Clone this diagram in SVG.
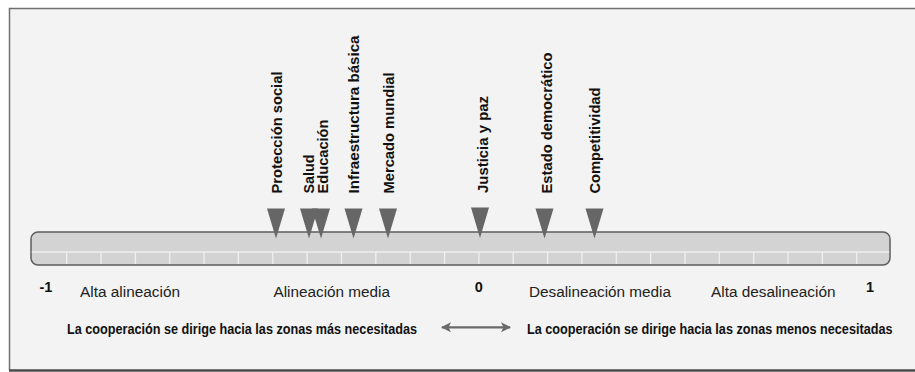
<svg xmlns="http://www.w3.org/2000/svg" width="915" height="372" viewBox="0 0 915 372">
<defs>
<style>
.lbl{font-family:"Liberation Sans",Arial,sans-serif;font-weight:bold;font-size:15px;fill:#111}
.reg{font-family:"Liberation Sans",Arial,sans-serif;font-size:15.5px;fill:#222}
.num{font-family:"Liberation Sans",Arial,sans-serif;font-weight:bold;font-size:14.5px;fill:#111}
.note{font-family:"Liberation Sans",Arial,sans-serif;font-weight:bold;font-size:14px;fill:#111}
.tri{fill:#666}
.tick{stroke:#f0f0f0;stroke-width:1.3}
</style>
<marker id="ah" viewBox="0 0 10 10" refX="9" refY="5" markerWidth="10" markerHeight="10" markerUnits="userSpaceOnUse" orient="auto-start-reverse">
<path d="M0,0 L10,5 L0,10 L2.5,5 Z" fill="#6a6a6a"/>
</marker>
</defs>
<rect x="0" y="0" width="915" height="372" fill="#ffffff"/>
<rect x="9.5" y="8.5" width="905.5" height="362" fill="#f3f3f3"/>
<path d="M9.5,370 L9.5,8.5 L915,8.5" fill="none" stroke="#707070" stroke-width="1.5"/>
<line x1="9" y1="370.5" x2="915" y2="370.5" stroke="#4a4a4a" stroke-width="2.5"/>

<g id="scale">
<rect x="31" y="232" width="859" height="33" rx="7" ry="7" fill="#d3d3d3" stroke="#5e5e5e" stroke-width="1.5"/>
<line x1="31.8" y1="252" x2="889.2" y2="252" stroke="#efefef" stroke-width="1.5"/>
<g class="tick">
<line x1="66.7" y1="252" x2="66.7" y2="264"/><line x1="101" y1="252" x2="101" y2="264"/><line x1="135.4" y1="252" x2="135.4" y2="264"/><line x1="169.7" y1="252" x2="169.7" y2="264"/><line x1="204.1" y1="252" x2="204.1" y2="264"/><line x1="238.4" y1="252" x2="238.4" y2="264"/><line x1="272.8" y1="252" x2="272.8" y2="264"/><line x1="307.1" y1="252" x2="307.1" y2="264"/><line x1="341.5" y1="252" x2="341.5" y2="264"/><line x1="375.8" y1="252" x2="375.8" y2="264"/><line x1="410.2" y1="252" x2="410.2" y2="264"/><line x1="444.5" y1="252" x2="444.5" y2="264"/><line x1="478.9" y1="252" x2="478.9" y2="264"/><line x1="513.2" y1="252" x2="513.2" y2="264"/><line x1="547.6" y1="252" x2="547.6" y2="264"/><line x1="581.9" y1="252" x2="581.9" y2="264"/><line x1="616.3" y1="252" x2="616.3" y2="264"/><line x1="650.6" y1="252" x2="650.6" y2="264"/><line x1="685" y1="252" x2="685" y2="264"/><line x1="719.3" y1="252" x2="719.3" y2="264"/><line x1="753.7" y1="252" x2="753.7" y2="264"/><line x1="788" y1="252" x2="788" y2="264"/><line x1="822.4" y1="252" x2="822.4" y2="264"/><line x1="856.7" y1="252" x2="856.7" y2="264"/>
</g>
</g>

<g id="proteccion-social">
<polygon class="tri" points="267,208.5 285,208.5 276,238.5"/>
<text class="lbl" transform="translate(282,193.5) rotate(-90)" textLength="122" lengthAdjust="spacingAndGlyphs">Protección social</text>
</g>
<g id="salud">
<polygon class="tri" points="300,208.5 318,208.5 309,238.5"/>
<text class="lbl" transform="translate(313.5,193.5) rotate(-90)" textLength="39" lengthAdjust="spacingAndGlyphs">Salud</text>
</g>
<g id="educacion">
<polygon class="tri" points="312,208.5 330,208.5 321,238.5"/>
<text class="lbl" transform="translate(327.5,193.5) rotate(-90)" textLength="74" lengthAdjust="spacingAndGlyphs">Educación</text>
</g>
<g id="infraestructura-basica">
<polygon class="tri" points="344.5,208.5 362.5,208.5 353.5,238.5"/>
<text class="lbl" transform="translate(359,193.5) rotate(-90)" textLength="158" lengthAdjust="spacingAndGlyphs">Infraestructura básica</text>
</g>
<g id="mercado-mundial">
<polygon class="tri" points="379,208.5 397,208.5 388,238.5"/>
<text class="lbl" transform="translate(394,193.5) rotate(-90)" textLength="121" lengthAdjust="spacingAndGlyphs">Mercado mundial</text>
</g>
<g id="justicia-y-paz">
<polygon class="tri" points="471,207.5 489,207.5 480,238"/>
<text class="lbl" transform="translate(487.5,193) rotate(-90)" textLength="97" lengthAdjust="spacingAndGlyphs">Justicia y paz</text>
</g>
<g id="estado-democratico">
<polygon class="tri" points="535.5,208.5 553.5,208.5 544.5,238.5"/>
<text class="lbl" transform="translate(551.5,193.5) rotate(-90)" textLength="141" lengthAdjust="spacingAndGlyphs">Estado democrático</text>
</g>
<g id="competitividad">
<polygon class="tri" points="585.5,208.5 603.5,208.5 594.5,238.5"/>
<text class="lbl" transform="translate(600,193.5) rotate(-90)" textLength="106" lengthAdjust="spacingAndGlyphs">Competitividad</text>
</g>

<g id="scale-labels">
<text class="num" x="39.5" y="292">-1</text>
<text class="reg" x="80" y="297" textLength="100" lengthAdjust="spacingAndGlyphs">Alta alineación</text>
<text class="reg" x="273.5" y="297" textLength="116.5" lengthAdjust="spacingAndGlyphs">Alineación media</text>
<text class="num" x="478.7" y="292" text-anchor="middle">0</text>
<text class="reg" x="529" y="297" textLength="142" lengthAdjust="spacingAndGlyphs">Desalineación media</text>
<text class="reg" x="711" y="297" textLength="124.5" lengthAdjust="spacingAndGlyphs">Alta desalineación</text>
<text class="num" x="866" y="292">1</text>
</g>

<g id="direction-left">
<text class="note" transform="translate(67,333.5) scale(0.9,1)" textLength="388.9" lengthAdjust="spacingAndGlyphs">La cooperación se dirige hacia las zonas más necesitadas</text>
</g>
<g id="direction-right">
<text class="note" transform="translate(527,333.5) scale(0.9,1)" textLength="406.1" lengthAdjust="spacingAndGlyphs">La cooperación se dirige hacia las zonas menos necesitadas</text>
</g>

<g id="connectors">
<line x1="442" y1="327.3" x2="510" y2="327.3" stroke="#6a6a6a" stroke-width="2.2" marker-start="url(#ah)" marker-end="url(#ah)"/>
</g>
</svg>
